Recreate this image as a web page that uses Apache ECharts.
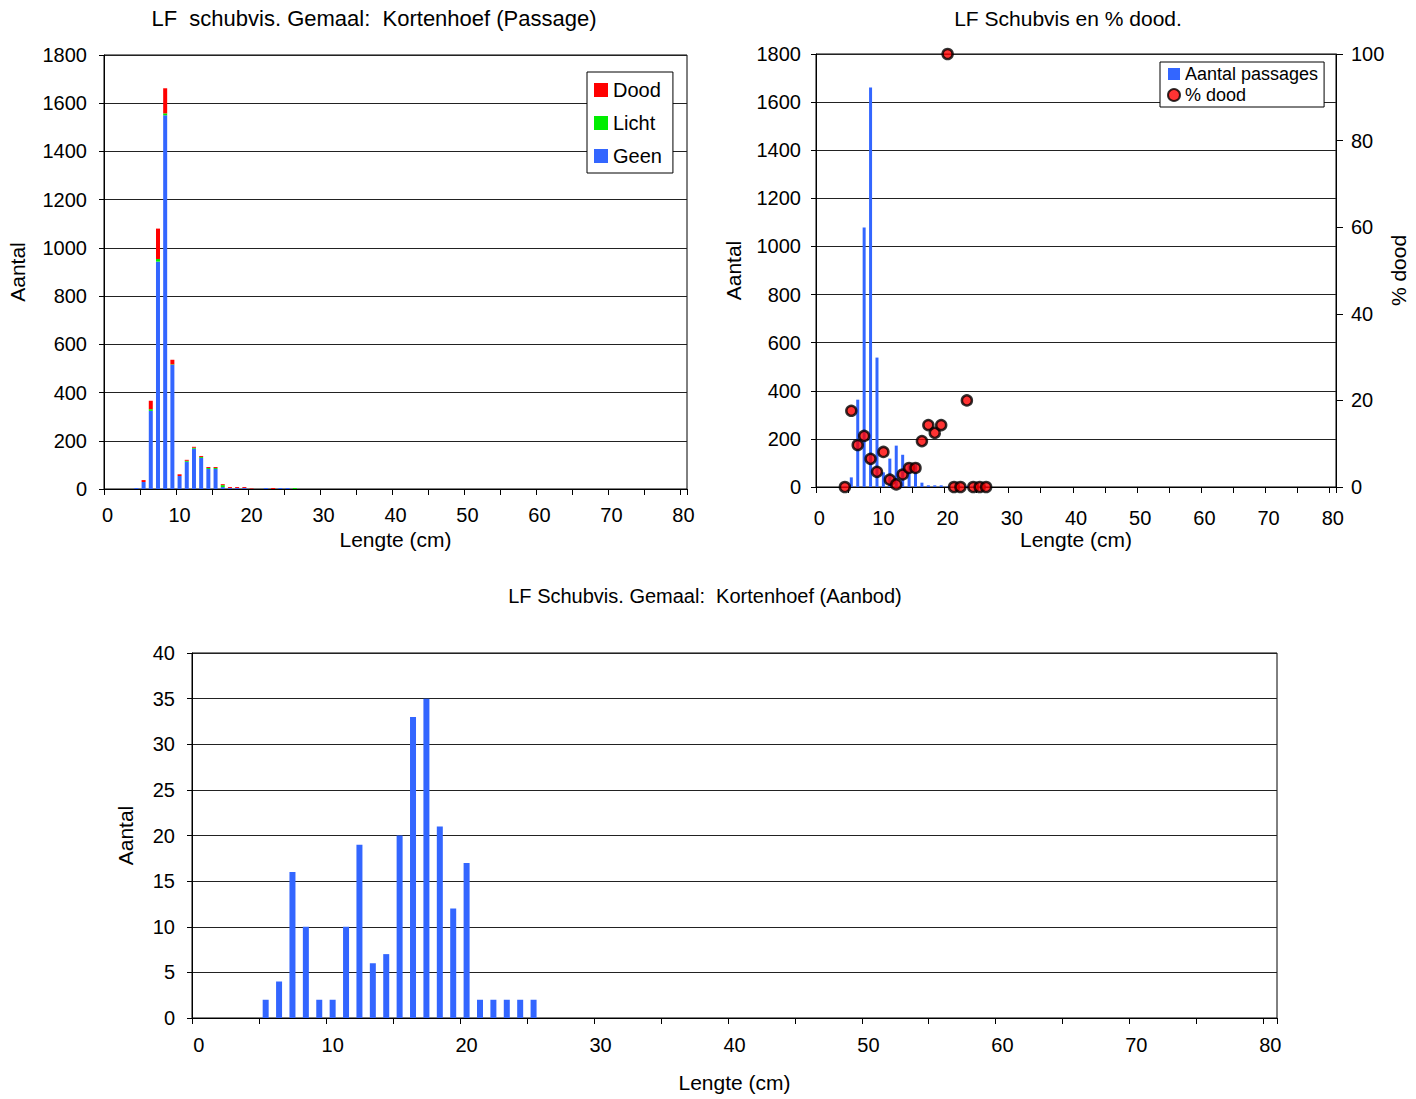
<!DOCTYPE html>
<html>
<head>
<meta charset="utf-8">
<script src="https://cdn.jsdelivr.net/npm/echarts@6/dist/echarts.min.js"></script>
<style>
html,body{margin:0;padding:0;background:#fff;}
#chart{width:1416px;height:1099px;}
</style>
</head>
<body>
<div id="chart"></div>
<script>
// Length classes (cm)
const lengths = ['0','1','2','3','4','5','6','7','8','9','10','11','12','13','14','15','16','17','18','19','20',
  '21','22','23','24','25','26','27','28','29','30','31','32','33','34','35','36','37','38','39','40',
  '41','42','43','44','45','46','47','48','49','50','51','52','53','54','55','56','57','58','59','60',
  '61','62','63','64','65','66','67','68','69','70','71','72','73','74','75','76','77','78','79','80'];

// Passage (stacked): index = length in cm
const geen  = [0,0,0,0,4,29,324,943,1550,515,54,113,167,129,83,83,8,4,4,4,0,0,4,0,4,4,0];
const licht = [0,0,0,0,0,0,7,11,8,2,0,4,4,4,4,4,8,0,0,0,0,0,0,0,0,0,4];
const dood  = [0,0,0,0,0,8,35,126,104,19,7,4,4,4,4,4,4,4,4,4,2,0,0,4,0,0,0];

// Aantal passages and % dood
const aantalPassages = [0,0,0,0,4,40,363,1079,1661,538,61,118,172,134,93,93,18,7,7,7,2,0,4,4,4,4,4];
const pctDood = ['-','-','-','-',0,17.6,9.7,11.8,6.5,3.5,8.1,1.7,0.6,2.9,4.4,4.4,10.6,14.3,12.5,14.3,100,0,0,20,0,0,0];

// Aanbod
const aanbod = [0,0,0,0,0,2,4,16,10,2,2,10,19,6,7,20,33,35,21,12,17,2,2,2,2,2];

const FONT = 'Liberation Sans, Arial, sans-serif';
const BLUE = '#3366ff', RED = '#ff0000', GREEN = '#00ee00';

const chart = echarts.init(document.getElementById('chart'), null, {renderer: 'svg'});

function plain(v) { return String(v); }

function xCat(gridIndex, margin, nameGap) {
  return {
    type: 'category', gridIndex: gridIndex, data: lengths,
    name: 'Lengte (cm)', nameLocation: 'middle', nameGap: nameGap,
    nameTextStyle: {fontSize: 21, color: '#000', fontFamily: FONT},
    axisLine: {show: true, lineStyle: {color: '#000', width: 1}},
    axisTick: {show: true, interval: 4, length: 6, lineStyle: {color: '#000'}},
    axisLabel: {interval: 9, fontSize: 20, color: '#000', margin: margin, fontFamily: FONT},
    splitLine: {show: false}
  };
}
function yVal(gridIndex, max, interval, nameGap, margin) {
  return {
    type: 'value', gridIndex: gridIndex, min: 0, max: max, interval: interval,
    name: 'Aantal', nameLocation: 'middle', nameGap: nameGap,
    nameTextStyle: {fontSize: 21, color: '#000', fontFamily: FONT},
    axisLine: {show: true, lineStyle: {color: '#000', width: 1}},
    axisTick: {show: true, length: 5, lineStyle: {color: '#000'}},
    axisLabel: {fontSize: 20, color: '#000', margin: margin, fontFamily: FONT, formatter: plain},
    splitLine: {show: true, lineStyle: {color: '#222', width: 1}}
  };
}

const option = {
  backgroundColor: '#fff',
  animation: false,
  textStyle: {fontFamily: FONT},
  title: [
    {text: 'LF  schubvis. Gemaal:  Kortenhoef (Passage)', left: 369, top: 2, textAlign: 'center',
     textStyle: {fontSize: 22, fontWeight: 'normal', color: '#000', fontFamily: FONT}},
    {text: 'LF Schubvis en % dood.', left: 1063, top: 3, textAlign: 'center',
     textStyle: {fontSize: 21, fontWeight: 'normal', color: '#000', fontFamily: FONT}},
    {text: 'LF Schubvis. Gemaal:  Kortenhoef (Aanbod)', left: 700, top: 581, textAlign: 'center',
     textStyle: {fontSize: 20, fontWeight: 'normal', color: '#000', fontFamily: FONT}}
  ],
  grid: [
    {left: 104, top: 55, width: 583, height: 434, show: true, borderColor: '#000', borderWidth: 1, containLabel: false},
    {left: 816, top: 54, width: 520, height: 433, show: true, borderColor: '#000', borderWidth: 1, containLabel: false},
    {left: 192, top: 653, width: 1085, height: 365, show: true, borderColor: '#000', borderWidth: 1, containLabel: false}
  ],
  legend: [
    {data: ['Dood', 'Licht', 'Geen'], orient: 'vertical', left: 587, top: 72,
     padding: [8, 11, 7, 7], itemGap: 13, itemWidth: 14, itemHeight: 14,
     borderColor: '#000', borderWidth: 1, backgroundColor: '#fff', icon: 'rect',
     textStyle: {fontSize: 20, color: '#000', fontFamily: FONT, lineHeight: 20}},
    {data: [{name: 'Aantal passages', icon: 'rect'}, {name: '% dood', icon: 'circle'}],
     orient: 'vertical', left: 1160, top: 62,
     padding: [3, 6, 3, 7], itemGap: 3, itemWidth: 12, itemHeight: 12,
     borderColor: '#000', borderWidth: 1, backgroundColor: '#fff',
     textStyle: {fontSize: 18, color: '#000', fontFamily: FONT, lineHeight: 18}}
  ],
  xAxis: [
    xCat(0, 16, 40),
    xCat(1, 21, 42),
    xCat(2, 17, 54)
  ],
  yAxis: [
    yVal(0, 1800, 200, 76, 17),
    yVal(1, 1800, 200, 72, 15),
    {
      type: 'value', gridIndex: 1, position: 'right', min: 0, max: 100, interval: 20,
      name: '% dood', nameLocation: 'middle', nameGap: 45,
      nameTextStyle: {fontSize: 21, color: '#000', fontFamily: FONT},
      axisLine: {show: true, lineStyle: {color: '#000', width: 1}},
      axisTick: {show: true, length: 7, lineStyle: {color: '#000'}},
      axisLabel: {fontSize: 20, color: '#000', margin: 15, fontFamily: FONT, formatter: plain},
      splitLine: {show: false}
    },
    yVal(2, 40, 5, 56, 17)
  ],
  series: [
    {name: 'Geen', type: 'bar', stack: 'passage', xAxisIndex: 0, yAxisIndex: 0, data: geen,
     barWidth: 4, itemStyle: {color: BLUE}},
    {name: 'Licht', type: 'bar', stack: 'passage', xAxisIndex: 0, yAxisIndex: 0, data: licht,
     barWidth: 4, itemStyle: {color: GREEN}},
    {name: 'Dood', type: 'bar', stack: 'passage', xAxisIndex: 0, yAxisIndex: 0, data: dood,
     barWidth: 4, itemStyle: {color: RED}},
    {name: 'Aantal passages', type: 'bar', xAxisIndex: 1, yAxisIndex: 1, data: aantalPassages,
     barWidth: 3, itemStyle: {color: BLUE}},
    {name: '% dood', type: 'scatter', xAxisIndex: 1, yAxisIndex: 2, data: pctDood,
     symbol: 'circle', symbolSize: 10, clip: false, z: 5,
     itemStyle: {color: RED, borderColor: '#000', borderWidth: 2.5}},
    {name: 'Aanbod', type: 'bar', xAxisIndex: 2, yAxisIndex: 3, data: aanbod,
     barWidth: 6, itemStyle: {color: BLUE}}
  ]
};
chart.setOption(option);
</script>
</body>
</html>
